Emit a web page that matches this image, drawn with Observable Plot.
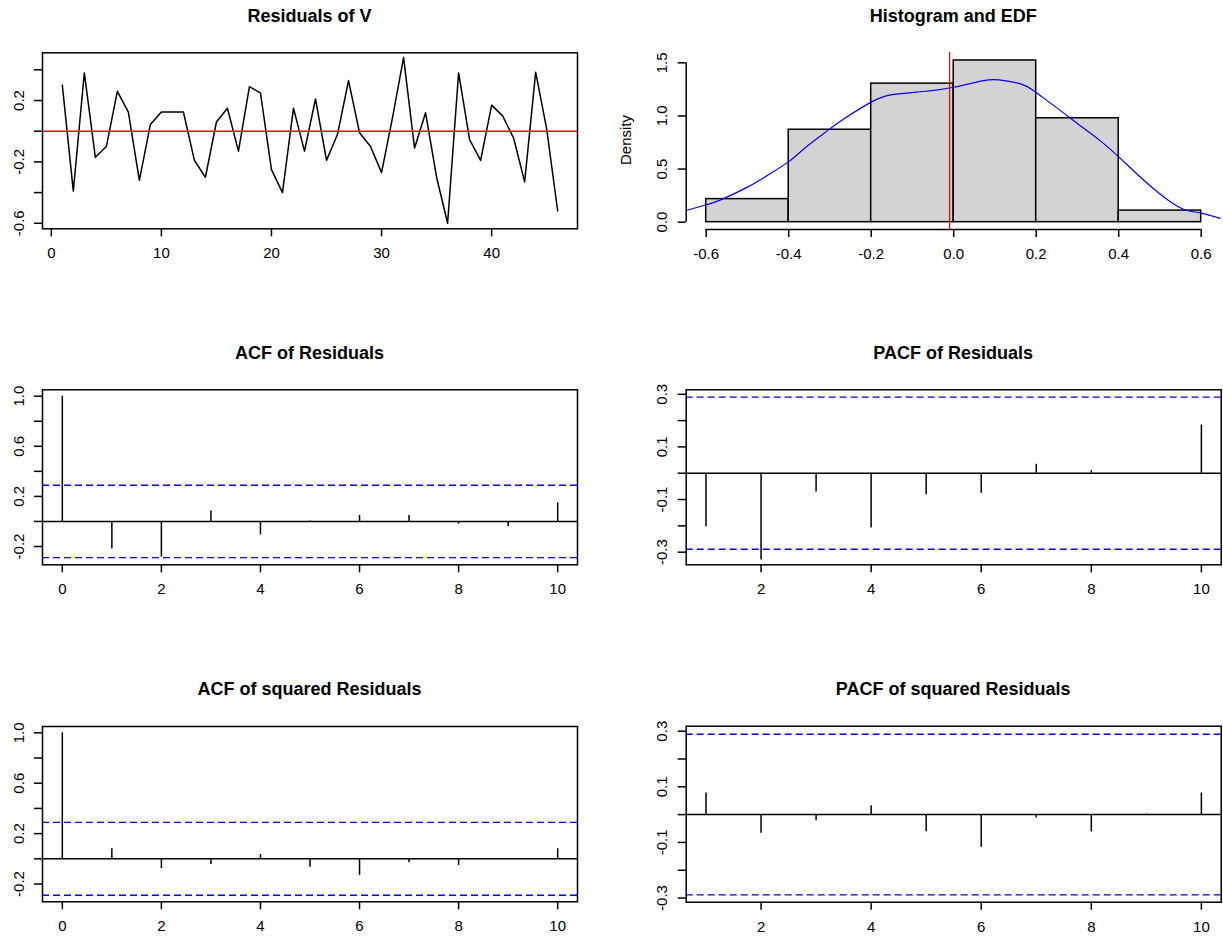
<!DOCTYPE html>
<html><head><meta charset="utf-8">
<script src="https://cdn.jsdelivr.net/npm/d3@7"></script>
<script src="https://cdn.jsdelivr.net/npm/@observablehq/plot@0.6"></script>
<style>
body{margin:0;background:#fff;}
#wrap{position:relative;width:1223px;height:941px;background:#fff;overflow:hidden;font-family:"Liberation Sans",Arial,sans-serif;}
.panel{position:absolute;}
.title{position:absolute;font-weight:bold;font-size:18px;line-height:18px;transform:translateX(-50%);white-space:nowrap;color:#000;}
.ylab{position:absolute;font-size:15px;line-height:15px;white-space:nowrap;color:#000;transform:translate(-50%,-50%) rotate(-90deg);}
</style></head><body><div id="wrap"></div>
<script>
// ---- data ----
const panelTitles = ["Residuals of V","Histogram and EDF","ACF of Residuals","PACF of Residuals","ACF of squared Residuals","PACF of squared Residuals"];
const histYLabel = "Density";

const residuals = [0.30,-0.39,0.38,-0.17,-0.10,0.26,0.125,-0.32,0.044,0.125,0.125,0.125,-0.19,-0.30,0.06,0.15,-0.13,0.29,0.25,-0.25,-0.40,0.15,-0.13,0.21,-0.19,-0.02,0.33,-0.01,-0.10,-0.27,0.09,0.48,-0.11,0.12,-0.30,-0.60,0.38,-0.055,-0.19,0.17,0.10,-0.046,-0.33,0.385,0.015,-0.52];

const histBreaks = [-0.6,-0.4,-0.2,0.0,0.2,0.4,0.6];
const histDensity = [0.217,0.870,1.304,1.522,0.978,0.109];

const densityX = [-0.6485,-0.6,-0.565,-0.5,-0.452,-0.4,-0.357,-0.31,-0.263,-0.2,-0.149,-0.073,0.0,0.069,0.11,0.164,0.2,0.259,0.306,0.354,0.404,0.465,0.526,0.566,0.6,0.6485];
const densityY = [0.11,0.164,0.21,0.33,0.44,0.57,0.71,0.85,0.98,1.13,1.20,1.23,1.27,1.33,1.34,1.30,1.22,1.05,0.91,0.77,0.60,0.38,0.19,0.11,0.085,0.032];

const acfLags = [0,1,2,3,4,5,6,7,8,9,10];
const pacfLags = [1,2,3,4,5,6,7,8,9,10];
const acfResid = [1.0,-0.219,-0.285,0.083,-0.107,0.004,0.048,0.048,-0.021,-0.043,0.149];
const pacfResid = [-0.203,-0.33,-0.071,-0.208,-0.082,-0.076,0.034,0.010,-0.003,0.183];
const acfSquared = [1.0,0.08,-0.077,-0.045,0.035,-0.067,-0.131,-0.032,-0.053,0.002,0.08];
const pacfSquared = [0.078,-0.067,-0.022,0.032,-0.062,-0.117,-0.012,-0.062,0.002,0.078];
const confLimit = [0.289];

// ---- layout helpers ----
const wrap = document.getElementById("wrap");
const FONT = "Liberation Sans, Arial, sans-serif";
const LW = 1.5;
const fmt1 = d => d.toFixed(1);
const fmtInt = d => String(d);
const only = (labels, f) => d => labels.includes(d) ? f(d) : "";

function panel({L, T, W, H, box, xDomain, yDomain, xTicks, xFmt, yTicks, yFmt, marks}) {
  const [x0, y0, x1, y1] = box;
  const chart = Plot.plot({
    width: W, height: H,
    marginLeft: x0 - L, marginRight: L + W - x1, marginTop: y0 - T, marginBottom: T + H - y1,
    x: {type: "linear", domain: xDomain},
    y: {type: "linear", domain: yDomain},
    style: {fontFamily: FONT, fontSize: "15px", color: "#000", background: "transparent", overflow: "visible"},
    marks: [
      ...marks,
      Plot.axisX({ticks: xTicks, tickFormat: xFmt, tickSize: 8, tickPadding: 11, strokeWidth: LW, label: null}),
      Plot.axisY({ticks: yTicks, tickFormat: yFmt, tickSize: 8, tickPadding: 11, tickRotate: -90, strokeWidth: LW, label: null})
    ]
  });
  const div = document.createElement("div");
  div.className = "panel";
  div.style.left = L + "px"; div.style.top = T + "px";
  div.appendChild(chart);
  wrap.appendChild(div);
}

function htmlText(cls, text, cx, cy, dyTop) {
  const t = document.createElement("div");
  t.className = cls;
  t.textContent = text;
  t.style.left = cx + "px";
  t.style.top = (cy - dyTop) + "px";
  wrap.appendChild(t);
}

function acfMarks(lags, values) {
  return [
    Plot.ruleY(confLimit, {y: d => d, stroke: "#0000ff", strokeWidth: 1.3, strokeDasharray: "7,4"}),
    Plot.ruleY(confLimit, {y: d => -d, stroke: "#0000ff", strokeWidth: 1.3, strokeDasharray: "7,4"}),
    Plot.ruleY([0], {stroke: "#000", strokeWidth: LW}),
    Plot.ruleX(values, {x: (d, i) => lags[i], y1: 0, y2: d => d, stroke: "#000", strokeWidth: LW}),
    Plot.frame({stroke: "#000", strokeWidth: LW})
  ];
}

// ---- Panel 1: residual series ----
panel({
  L: 0, T: 0, W: 611, H: 337, box: [42, 52.3, 577, 228.3],
  xDomain: [-0.8, 47.8], yDomain: [-0.636, 0.511],
  xTicks: [0, 10, 20, 30, 40], xFmt: fmtInt,
  yTicks: [-0.6, -0.4, -0.2, 0, 0.2, 0.4], yFmt: only([-0.6, -0.2, 0.2], fmt1),
  marks: [
    Plot.line(residuals, {x: (d, i) => i + 1, y: d => d, stroke: "#000", strokeWidth: LW}),
    Plot.ruleY([0], {stroke: "#ff0000", strokeWidth: LW}),
    Plot.frame({stroke: "#000", strokeWidth: LW})
  ]
});

// ---- Panel 2: histogram + density ----
const bins = histDensity.map((d, i) => ({x1: histBreaks[i], x2: histBreaks[i + 1], y: d}));
const dens = densityX.map((x, i) => ({x, y: densityY[i]}));
const histYTicks = [0, 0.5, 1.0, 1.5];
const histYDomain = [-0.069, 1.597];
const histXDomain = [-0.6485, 0.6485];
panel({
  L: 611, T: 0, W: 612, H: 337, box: [685.7, 52, 1220.7, 229],
  xDomain: histXDomain, yDomain: histYDomain,
  xTicks: histBreaks, xFmt: fmt1,
  yTicks: histYTicks, yFmt: fmt1,
  marks: [
    Plot.rectY(bins, {x1: "x1", x2: "x2", y: "y", fill: "#d3d3d3", stroke: "#000", strokeWidth: LW}),
    Plot.line(dens, {x: "x", y: "y", stroke: "#0000ff", strokeWidth: 1.2, curve: "natural", clip: true}),
    Plot.ruleX([d3.mean(residuals)], {stroke: "#ff0000", strokeWidth: 1.3}),
    Plot.ruleY([histYDomain[0]], {x1: histBreaks[0], x2: histBreaks[histBreaks.length - 1], stroke: "#000", strokeWidth: LW}),
    Plot.ruleX([histXDomain[0]], {y1: histYTicks[0], y2: histYTicks[histYTicks.length - 1], stroke: "#000", strokeWidth: LW})
  ]
});
htmlText("ylab", histYLabel, 625, 140, 0);

// ---- Panel 3: ACF residuals ----
panel({
  L: 0, T: 337, W: 611, H: 337, box: [42, 389.3, 577, 564.3],
  xDomain: [-0.4, 10.4], yDomain: [-0.346, 1.051],
  xTicks: [0, 2, 4, 6, 8, 10], xFmt: fmtInt,
  yTicks: [-0.2, 0, 0.2, 0.4, 0.6, 0.8, 1.0], yFmt: only([-0.2, 0.2, 0.6, 1.0], fmt1),
  marks: acfMarks(acfLags, acfResid)
});

// ---- Panel 4: PACF residuals ----
panel({
  L: 611, T: 337, W: 612, H: 337, box: [685.7, 389.3, 1220.7, 564.3],
  xDomain: [0.64, 10.36], yDomain: [-0.348, 0.317],
  xTicks: [2, 4, 6, 8, 10], xFmt: fmtInt,
  yTicks: [-0.3, -0.2, -0.1, 0, 0.1, 0.2, 0.3], yFmt: only([-0.3, -0.1, 0.1, 0.3], fmt1),
  marks: acfMarks(pacfLags, pacfResid)
});

// ---- Panel 5: ACF squared residuals ----
panel({
  L: 0, T: 674, W: 611, H: 267, box: [42, 726, 577, 901.3],
  xDomain: [-0.4, 10.4], yDomain: [-0.341, 1.05],
  xTicks: [0, 2, 4, 6, 8, 10], xFmt: fmtInt,
  yTicks: [-0.2, 0, 0.2, 0.4, 0.6, 0.8, 1.0], yFmt: only([-0.2, 0.2, 0.6, 1.0], fmt1),
  marks: acfMarks(acfLags, acfSquared)
});

// ---- Panel 6: PACF squared residuals ----
panel({
  L: 611, T: 674, W: 612, H: 267, box: [685.7, 725.7, 1220.7, 901.7],
  xDomain: [0.64, 10.36], yDomain: [-0.315, 0.318],
  xTicks: [2, 4, 6, 8, 10], xFmt: fmtInt,
  yTicks: [-0.3, -0.2, -0.1, 0, 0.1, 0.2, 0.3], yFmt: only([-0.3, -0.1, 0.1, 0.3], fmt1),
  marks: acfMarks(pacfLags, pacfSquared)
});

// ---- titles ----
htmlText("title", panelTitles[0], 309.5, 15.5, 9);
htmlText("title", panelTitles[1], 953.2, 15.5, 9);
htmlText("title", panelTitles[2], 309.5, 352.5, 9);
htmlText("title", panelTitles[3], 953.2, 352.5, 9);
htmlText("title", panelTitles[4], 309.5, 688.5, 9);
htmlText("title", panelTitles[5], 953.2, 688.5, 9);
</script>
</body></html>
